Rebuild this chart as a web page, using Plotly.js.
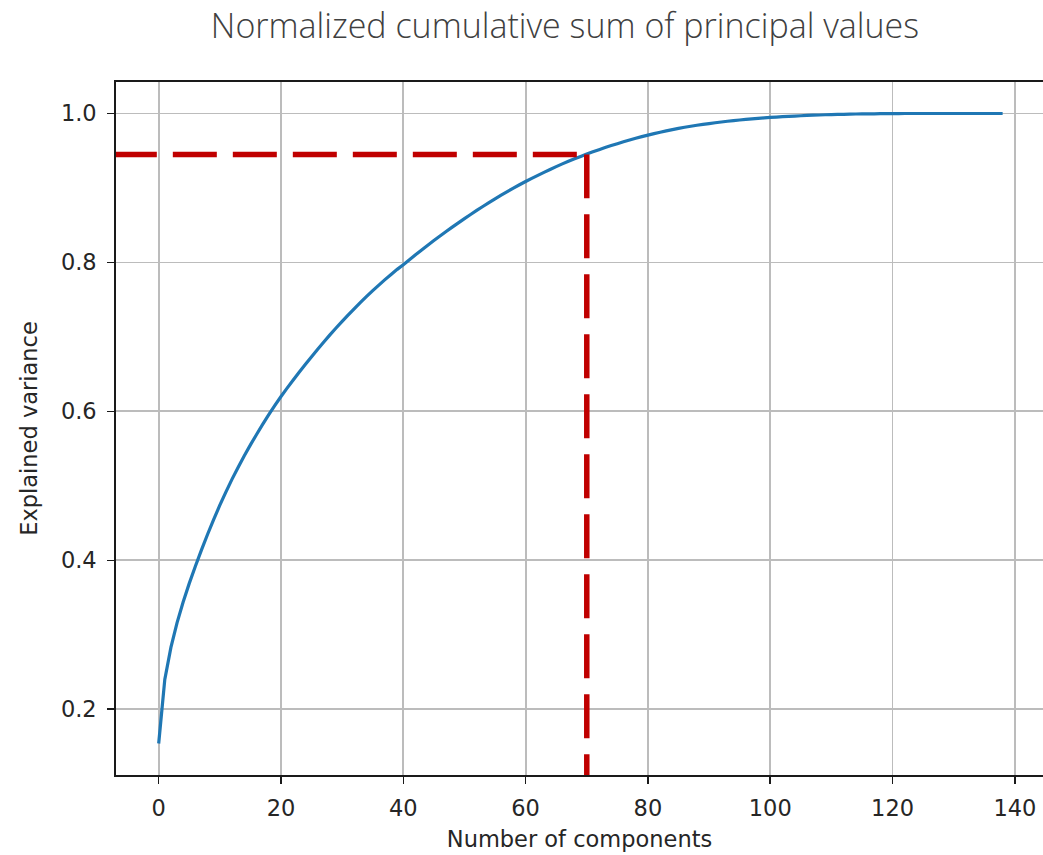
<!DOCTYPE html>
<html>
<head>
<meta charset="utf-8">
<script src="https://cdn.plot.ly/plotly-3.0.1.min.js"></script>
<style>html,body{margin:0;padding:0;background:#fff;}#chart{width:1043px;height:855px;}</style>
</head>
<body>
<div id="chart"></div>
<script>
// Normalized cumulative explained variance, components 0..138
const explainedVariance = [
  0.154, 0.240, 0.283, 0.316, 0.344, 0.369, 0.392, 0.414, 0.435, 0.455,
  0.474, 0.492, 0.509, 0.525, 0.5405, 0.555, 0.569, 0.5825, 0.5955, 0.608,
  0.620, 0.6312, 0.6422, 0.6529, 0.6633, 0.6735, 0.6835, 0.6932, 0.7027, 0.7119,
  0.7209, 0.7296, 0.7381, 0.7463, 0.7543, 0.7621, 0.7696, 0.7769, 0.7839, 0.7907,
  0.797, 0.8037, 0.8103, 0.8168, 0.8232, 0.8294, 0.8355, 0.8415, 0.8474, 0.8532,
  0.8589, 0.8644, 0.8698, 0.8751, 0.8803, 0.8854, 0.8903, 0.8951, 0.8998, 0.9043,
  0.9087, 0.9129, 0.917, 0.921, 0.9249, 0.9287, 0.9323, 0.9358, 0.9392, 0.9424,
  0.9455, 0.9485, 0.9514, 0.9542, 0.9569, 0.9595, 0.962, 0.9644, 0.9667, 0.9689,
  0.971, 0.973, 0.9749, 0.9767, 0.9784, 0.980, 0.9815, 0.9829, 0.9842, 0.9854,
  0.9865, 0.9876, 0.9886, 0.9896, 0.9905, 0.9913, 0.9921, 0.9928, 0.9935, 0.9941,
  0.9947, 0.9952, 0.9957, 0.9962, 0.9966, 0.997, 0.9974, 0.9977, 0.998, 0.9983,
  0.9985, 0.9987, 0.9989, 0.9991, 0.9993, 0.9994, 0.9995, 0.9996, 0.9997, 0.9998,
  0.9999, 0.9999, 1.000, 1.000, 1.000, 1.000, 1.000, 1.000, 1.000, 1.000,
  1.000, 1.000, 1.000, 1.000, 1.000, 1.000, 1.000, 1.000, 1.000
];
const components = explainedVariance.map((_, i) => i);

// Threshold marker
const thresholdComponents = 70;
const thresholdVariance = 0.945;
const hLineX = [-7.5, thresholdComponents];
const hLineY = [thresholdVariance, thresholdVariance];
const vLineX = [thresholdComponents, thresholdComponents];
const vLineY = [0, thresholdVariance];

const xTicks = [0, 20, 40, 60, 80, 100, 120, 140];
const yTicks = [0.2, 0.4, 0.6, 0.8, 1.0];
const yTickText = ['0.2', '0.4', '0.6', '0.8', '1.0'];

const tickFont = {family: 'DejaVu Sans', size: 22.5, color: '#262626'};

const traces = [
  {x: components, y: explainedVariance, type: 'scatter', mode: 'lines',
   line: {color: '#1f77b4', width: 3.2, simplify: false}, hoverinfo: 'x+y'},
  {x: hLineX, y: hLineY, type: 'scatter', mode: 'lines',
   line: {color: '#c00000', width: 5.5, dash: '44px,16px'}},
  {x: vLineX, y: vLineY, type: 'scatter', mode: 'lines',
   line: {color: '#c00000', width: 5.5, dash: '44px,16px'}}
];

const layout = {
  width: 1043, height: 855,
  margin: {l: 116, r: 0, t: 82, b: 80, pad: 0},
  paper_bgcolor: '#ffffff', plot_bgcolor: '#ffffff',
  showlegend: false,
  title: {
    text: 'Normalized cumulative sum of principal values',
    font: {family: 'Open Sans', size: 34, color: '#404040', weight: 300},
    x: 0.5417, xref: 'container', xanchor: 'center',
    y: 0.970, yref: 'container', yanchor: 'middle'
  },
  xaxis: {
    range: [-6.98, 144.6], tickvals: xTicks, ticktext: xTicks.map(String),
    showgrid: true, gridcolor: '#bcbcbc', gridwidth: 1.8,
    zeroline: false, showline: true, mirror: true, linecolor: '#1a1a1a', linewidth: 1.8,
    ticks: 'outside', ticklen: 7, tickwidth: 1.6, tickcolor: '#1a1a1a',
    tickfont: tickFont, ticklabelstandoff: 5,
    title: {text: 'Number of components', font: tickFont, standoff: 11}
  },
  yaxis: {
    range: [0.1117, 1.0423], tickvals: yTicks, ticktext: yTickText,
    showgrid: true, gridcolor: '#bcbcbc', gridwidth: 1.8,
    zeroline: false, showline: true, mirror: false, linecolor: '#1a1a1a', linewidth: 1.8,
    ticks: 'outside', ticklen: 7, tickwidth: 1.6, tickcolor: '#1a1a1a',
    tickfont: tickFont, ticklabelstandoff: 6,
    title: {text: 'Explained variance', font: tickFont, standoff: 17}
  }
};

Plotly.newPlot('chart', traces, layout, {staticPlot: true, displayModeBar: false});
</script>
</body>
</html>
